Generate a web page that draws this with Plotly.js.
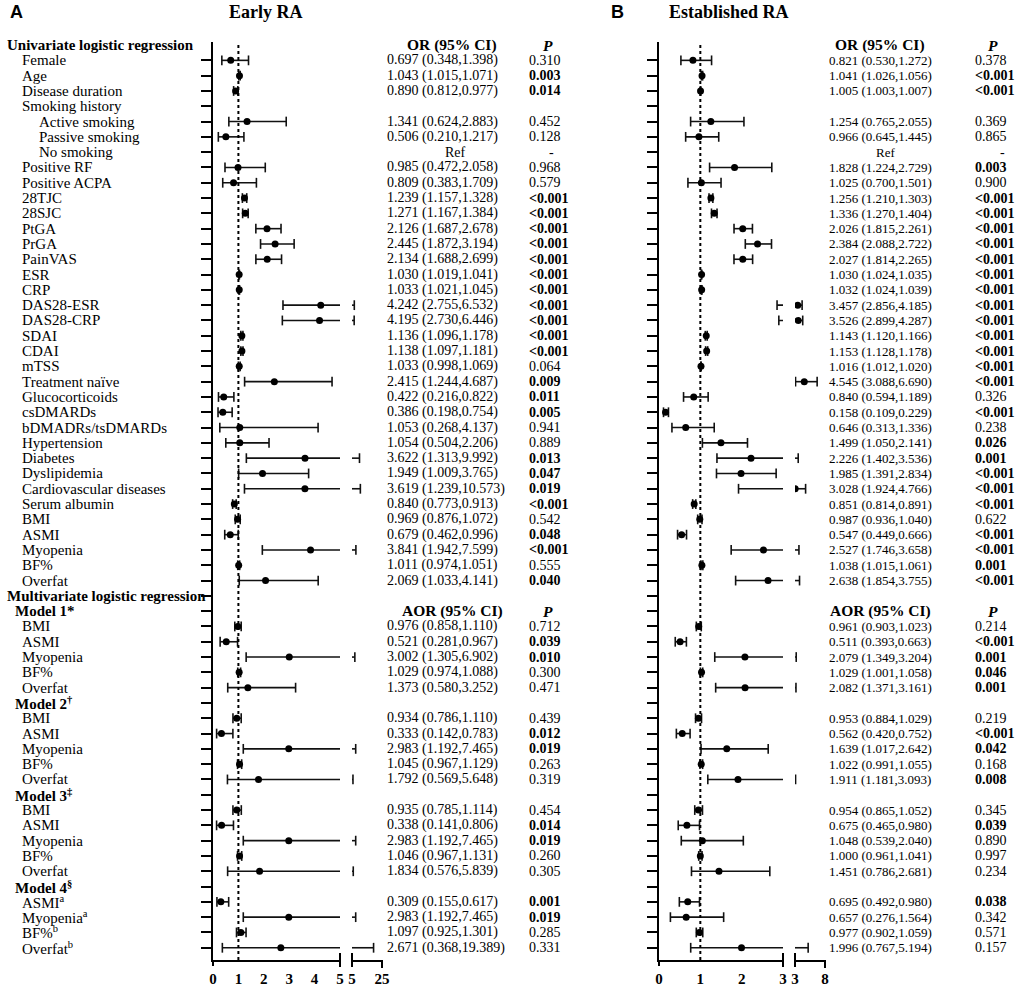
<!DOCTYPE html>
<html><head><meta charset="utf-8">
<script src="https://cdn.plot.ly/plotly-3.0.1.min.js"></script>
<style>body{margin:0;background:#fff}#chart{width:1021px;height:986px}</style>
</head><body><div id="chart"></div>
<script>
// ---------- data ----------
const rowLabels = ['Univariate logistic regression','Female','Age','Disease duration','Smoking history','Active smoking','Passive smoking','No smoking','Positive RF','Positive ACPA','28TJC','28SJC','PtGA','PrGA','PainVAS','ESR','CRP','DAS28-ESR','DAS28-CRP','SDAI','CDAI','mTSS','Treatment naïve','Glucocorticoids','csDMARDs','bDMADRs/tsDMARDs','Hypertension','Diabetes','Dyslipidemia','Cardiovascular diseases','Serum albumin','BMI','ASMI','Myopenia','BF%','Overfat','Multivariate logistic regression','Model 1*','BMI','ASMI','Myopenia','BF%','Overfat','Model 2<sup>†</sup>','BMI','ASMI','Myopenia','BF%','Overfat','Model 3<sup>‡</sup>','BMI','ASMI','Myopenia','BF%','Overfat','Model 4<sup>§</sup>','ASMI<sup>a</sup>','Myopenia<sup>a</sup>','BF%<sup>b</sup>','Overfat<sup>b</sup>'];
const rowLevel = ['H','I','I','I','I','S','S','S','I','I','I','I','I','I','I','I','I','I','I','I','I','I','I','I','I','I','I','I','I','I','I','I','I','I','I','I','H','M','MI','MI','MI','MI','MI','M','MI','MI','MI','MI','MI','M','MI','MI','MI','MI','MI','M','MI','MI','MI','MI'];
const tableHeaders = {0:'OR (95% CI)', 37:'AOR (95% CI)'};

const earlyOR = [null,0.697,1.043,0.890,null,1.341,0.506,null,0.985,0.809,1.239,1.271,2.126,2.445,2.134,1.030,1.033,4.242,4.195,1.136,1.138,1.033,2.415,0.422,0.386,1.053,1.054,3.622,1.949,3.619,0.840,0.969,0.679,3.841,1.011,2.069,null,null,0.976,0.521,3.002,1.029,1.373,null,0.934,0.333,2.983,1.045,1.792,null,0.935,0.338,2.983,1.046,1.834,null,0.309,2.983,1.097,2.671];
const earlyLo = [null,0.348,1.015,0.812,null,0.624,0.210,null,0.472,0.383,1.157,1.167,1.687,1.872,1.688,1.019,1.021,2.755,2.730,1.096,1.097,0.998,1.244,0.216,0.198,0.268,0.504,1.313,1.009,1.239,0.773,0.876,0.462,1.942,0.974,1.033,null,null,0.858,0.281,1.305,0.974,0.580,null,0.786,0.142,1.192,0.967,0.569,null,0.785,0.141,1.192,0.967,0.576,null,0.155,1.192,0.925,0.368];
const earlyHi = [null,1.398,1.071,0.977,null,2.883,1.217,null,2.058,1.709,1.328,1.384,2.678,3.194,2.699,1.041,1.045,6.532,6.446,1.178,1.181,1.069,4.687,0.822,0.754,4.137,2.206,9.992,3.765,10.573,0.913,1.072,0.996,7.599,1.051,4.141,null,null,1.110,0.967,6.902,1.088,3.252,null,1.110,0.783,7.465,1.129,5.648,null,1.114,0.806,7.465,1.131,5.839,null,0.617,7.465,1.301,19.389];
const earlyP = ['','0.310','0.003','0.014','','0.452','0.128','-','0.968','0.579','<0.001','<0.001','<0.001','<0.001','<0.001','<0.001','<0.001','<0.001','<0.001','<0.001','<0.001','0.064','0.009','0.011','0.005','0.941','0.889','0.013','0.047','0.019','<0.001','0.542','0.048','<0.001','0.555','0.040','','','0.712','0.039','0.010','0.300','0.471','','0.439','0.012','0.019','0.263','0.319','','0.454','0.014','0.019','0.260','0.305','','0.001','0.019','0.285','0.331'];

const estOR = [null,0.821,1.041,1.005,null,1.254,0.966,null,1.828,1.025,1.256,1.336,2.026,2.384,2.027,1.030,1.032,3.457,3.526,1.143,1.153,1.016,4.545,0.840,0.158,0.646,1.499,2.226,1.985,3.028,0.851,0.987,0.547,2.527,1.038,2.638,null,null,0.961,0.511,2.079,1.029,2.082,null,0.953,0.562,1.639,1.022,1.911,null,0.954,0.675,1.048,1.000,1.451,null,0.695,0.657,0.977,1.996];
const estLo = [null,0.530,1.026,1.003,null,0.765,0.645,null,1.224,0.700,1.210,1.270,1.815,2.088,1.814,1.024,1.024,2.856,2.899,1.120,1.128,1.012,3.088,0.594,0.109,0.313,1.050,1.402,1.391,1.924,0.814,0.936,0.449,1.746,1.015,1.854,null,null,0.903,0.393,1.349,1.001,1.371,null,0.884,0.420,1.017,0.991,1.181,null,0.865,0.465,0.539,0.961,0.786,null,0.492,0.276,0.902,0.767];
const estHi = [null,1.272,1.056,1.007,null,2.055,1.445,null,2.729,1.501,1.303,1.404,2.261,2.722,2.265,1.035,1.039,4.185,4.287,1.166,1.178,1.020,6.690,1.189,0.229,1.336,2.141,3.536,2.834,4.766,0.891,1.040,0.666,3.658,1.061,3.755,null,null,1.023,0.663,3.204,1.058,3.161,null,1.029,0.752,2.642,1.055,3.093,null,1.052,0.980,2.040,1.041,2.681,null,0.980,1.564,1.059,5.194];
const estP = ['','0.378','<0.001','<0.001','','0.369','0.865','-','0.003','0.900','<0.001','<0.001','<0.001','<0.001','<0.001','<0.001','<0.001','<0.001','<0.001','<0.001','<0.001','<0.001','<0.001','0.326','<0.001','0.238','0.026','0.001','<0.001','<0.001','<0.001','0.622','<0.001','<0.001','0.001','<0.001','','','0.214','<0.001','0.001','0.046','0.001','','0.219','<0.001','0.042','0.168','0.008','','0.345','0.039','0.890','0.997','0.234','','0.038','0.342','0.571','0.157'];

const earlyRange1 = [0,5], earlyRange2 = [5,25];
const estRange1 = [0,3], estRange2 = [3,8];
const earlyTicks1 = [0,1,2,3,4,5], earlyTicks2 = [5,25];
const estTicks1 = [0,1,2,3], estTicks2 = [3,8];

// ---------- layout helpers ----------
const W = 1021, H = 986, T = 42, B = 26;
const px = v => v / W;
const py = v => (H - B - v) / (H - T - B);
const SERIF = 'Liberation Serif, Times New Roman, serif';
const SANS = 'Liberation Sans, Arial, sans-serif';
const INK = '#111';
const nRows = rowLabels.length;
const rowIdx = [...Array(nRows).keys()];

const traces = [];
const annotations = [];
const shapes = [];

function segTraces(OR, LO, HI, xa, ya, rng) {
  const inR = v => v >= rng[0] && v <= rng[1];
  const rows = rowIdx.filter(i => OR[i] !== null && HI[i] >= rng[0] && LO[i] <= rng[1]);
  const lx = [], ly = [], cx = [], cy = [];
  rows.forEach(i => {
    lx.push(LO[i], HI[i], null); ly.push(i, i, null);
    [LO[i], HI[i]].forEach(v => { if (inR(v)) { cx.push(v); cy.push(i); } });
  });
  const pr = rows.filter(i => inR(OR[i]));
  traces.push({type:'scatter', mode:'lines', x:lx, y:ly, xaxis:xa, yaxis:ya, line:{color:INK, width:1.6}, hoverinfo:'skip'});
  traces.push({type:'scatter', mode:'markers', x:cx, y:cy, xaxis:xa, yaxis:ya, cliponaxis:true,
    marker:{symbol:'line-ns', size:7, line:{color:INK, width:1.6}}, hoverinfo:'skip'});
  traces.push({type:'scatter', mode:'markers', x:pr.map(i => OR[i]), y:pr, xaxis:xa, yaxis:ya, cliponaxis:true,
    marker:{symbol:'circle', size:7, color:'#000'}, hoverinfo:'skip'});
}

function isSig(p) { return p === '<0.001' || (p !== '' && p !== '-' && parseFloat(p) < 0.05); }

function tableText(OR, LO, HI, P, ya, cfg) {
  rowIdx.forEach(i => {
    if (tableHeaders[i]) {
      annotations.push({xref:'paper', yref:ya, x:px(cfg.headC), y:i, xanchor:'center', yanchor:'middle', showarrow:false,
        text:'<b>' + tableHeaders[i] + '</b>', font:{family:SERIF, size:cfg.headSize, color:'#000'}});
      annotations.push({xref:'paper', yref:ya, x:px(cfg.pHeadC), y:i, xanchor:'center', yanchor:'middle', showarrow:false,
        text:'<b><i>P</i></b>', font:{family:SERIF, size:cfg.headSize, color:'#000'}});
    }
    if (OR[i] !== null) {
      annotations.push({xref:'paper', yref:ya, x:px(cfg.orL), y:i, xanchor:'left', yanchor:'middle', showarrow:false,
        text: OR[i].toFixed(3) + ' (' + LO[i].toFixed(3) + ',' + HI[i].toFixed(3) + ')', font:{family:SERIF, size:cfg.orSize, color:'#000'}});
      annotations.push({xref:'paper', yref:ya, x:px(cfg.pL), y:i, xanchor:'left', yanchor:'middle', showarrow:false,
        text: isSig(P[i]) ? '<b>' + P[i] + '</b>' : P[i], font:{family:SERIF, size:cfg.pSize, color:'#000'}});
    } else if (P[i] === '-') {
      annotations.push({xref:'paper', yref:ya, x:px(cfg.refC), y:i, xanchor:'center', yanchor:'middle', showarrow:false,
        text:'Ref', font:{family:SERIF, size:cfg.orSize, color:'#000'}});
      annotations.push({xref:'paper', yref:ya, x:px(cfg.dashC), y:i, xanchor:'center', yanchor:'middle', showarrow:false,
        text:'-', font:{family:SERIF, size:cfg.pSize, color:'#000'}});
    }
  });
}

// Panel A
segTraces(earlyOR, earlyLo, earlyHi, 'x', 'y', earlyRange1);
segTraces(earlyOR, earlyLo, earlyHi, 'x2', 'y', earlyRange2);
tableText(earlyOR, earlyLo, earlyHi, earlyP, 'y', {headC:452, pHeadC:548, orL:385, pL:527, refC:455, dashC:551, headSize:15.5, orSize:14, pSize:14});
// Panel B
segTraces(estOR, estLo, estHi, 'x3', 'y2', estRange1);
segTraces(estOR, estLo, estHi, 'x4', 'y2', estRange2);
tableText(estOR, estLo, estHi, estP, 'y2', {headC:880, pHeadC:993, orL:827, pL:973, refC:885, dashC:1002, headSize:15.5, orSize:13, pSize:14});

// row labels
const indent = {H:5, I:20, S:37, M:13, MI:20};
rowIdx.forEach(i => {
  const bold = rowLevel[i] === 'H' || rowLevel[i] === 'M';
  annotations.push({xref:'paper', yref:'y', x:px(indent[rowLevel[i]]), y:i, xanchor:'left', yanchor:'middle', showarrow:false,
    text: bold ? '<b>' + rowLabels[i] + '</b>' : rowLabels[i], font:{family:SERIF, size:15, color:'#000'}});
});

// titles
annotations.push({xref:'paper', yref:'paper', x:px(16), y:py(12), xanchor:'center', yanchor:'middle', showarrow:false, text:'<b>A</b>', font:{family:SANS, size:18, color:'#000'}});
annotations.push({xref:'paper', yref:'paper', x:px(266), y:py(12), xanchor:'center', yanchor:'middle', showarrow:false, text:'<b>Early RA</b>', font:{family:SERIF, size:18, color:'#000'}});
annotations.push({xref:'paper', yref:'paper', x:px(617), y:py(12), xanchor:'center', yanchor:'middle', showarrow:false, text:'<b>B</b>', font:{family:SANS, size:18, color:'#000'}});
annotations.push({xref:'paper', yref:'paper', x:px(729), y:py(12), xanchor:'center', yanchor:'middle', showarrow:false, text:'<b>Established RA</b>', font:{family:SERIF, size:18, color:'#000'}});

// axis domains (pixels)
const dA1 = [213, 340], dA2 = [352, 382], dB1 = [659, 783], dB2 = [795, 825];

// reference lines at OR = 1
['x', 'x3'].forEach(xa => shapes.push({type:'line', xref:xa, yref:'paper', x0:1, x1:1, y0:0, y1:1, line:{color:'#000', width:2, dash:'dot'}}));
// axis break caps
function cap(xp, up, down) { shapes.push({type:'line', xref:'paper', yref:'paper', x0:px(xp), x1:px(xp), y0:py(960 - up), y1:py(960 + down), line:{color:'#000', width:2}}); }
cap(dA1[1], 7, 7); cap(dA2[0], 7, 7); cap(dA2[1], 0, 8);
cap(dB1[1], 7, 7); cap(dB2[0], 7, 7); cap(dB2[1], 0, 8);
cap(dA1[0], 0, 6); cap(dB1[0], 0, 6);

const tickRows = rowIdx.slice(1);
function xAxis(dom, range, tv, anchor) {
  return {domain:[px(dom[0]), px(dom[1])], range:range, anchor:anchor, showline:true, linewidth:2, linecolor:'#000',
    showgrid:false, zeroline:false, tickmode:'array', tickvals:tv, ticktext:tv.map(v => '<b>' + v + '</b>'), ticks:'outside', ticklen:4,
    tickcolor:'rgba(0,0,0,0)', tickfont:{family:SERIF, size:15, color:'#000'}, fixedrange:true};
}
function yAxis(anchor) {
  return {domain:[0,1], range:[nRows - 0.2, -0.2], anchor:anchor, showline:true, linewidth:2, linecolor:'#000',
    showgrid:false, zeroline:false, tickmode:'array', tickvals:tickRows, ticks:'outside', ticklen:10, tickwidth:2,
    tickcolor:'#000', showticklabels:false, fixedrange:true};
}

const layout = {
  width:W, height:H, margin:{l:0, r:0, t:T, b:B}, showlegend:false,
  paper_bgcolor:'#fff', plot_bgcolor:'rgba(0,0,0,0)',
  xaxis: xAxis(dA1, earlyRange1, earlyTicks1, 'y'),
  xaxis2: xAxis(dA2, earlyRange2, earlyTicks2, 'y'),
  xaxis3: xAxis(dB1, estRange1, estTicks1, 'y2'),
  xaxis4: xAxis(dB2, estRange2, estTicks2, 'y2'),
  yaxis: yAxis('x'),
  yaxis2: yAxis('x3'),
  annotations: annotations,
  shapes: shapes
};

Plotly.newPlot('chart', traces, layout, {displayModeBar:false, staticPlot:true});
</script>
</body></html>
